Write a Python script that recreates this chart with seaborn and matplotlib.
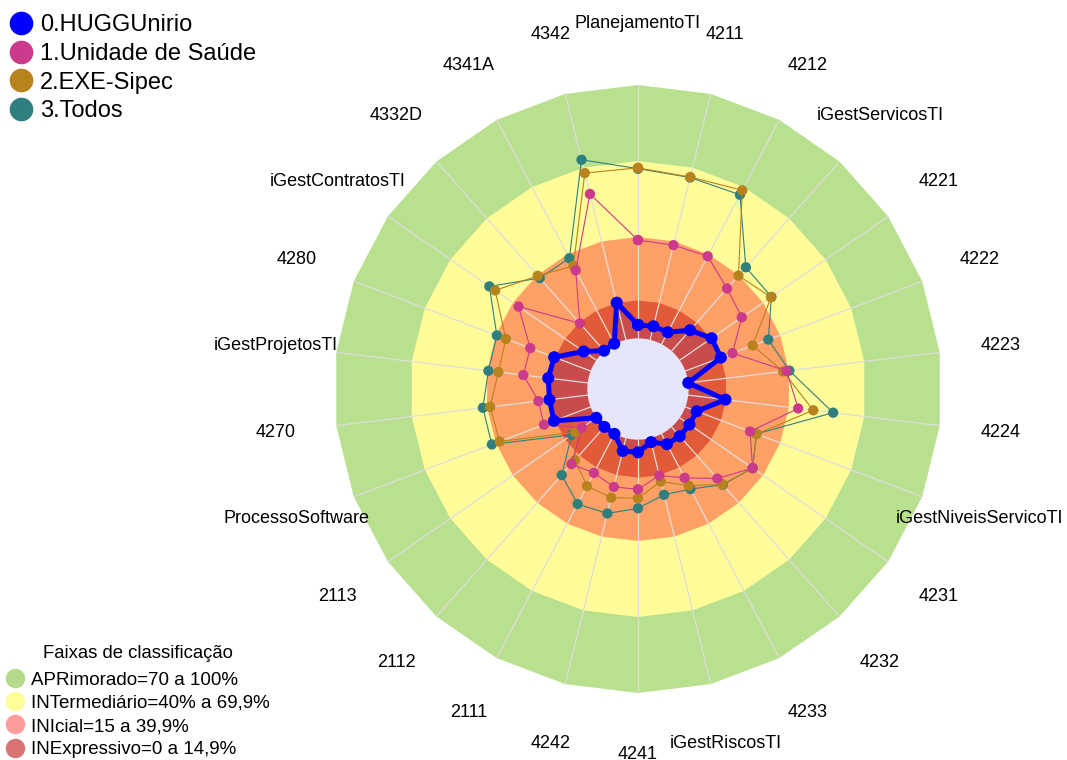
import numpy as np
import pandas as pd
import seaborn as sns
import matplotlib.pyplot as plt
from matplotlib.lines import Line2D
from matplotlib.patches import Polygon, Circle


sns.set_style('white')
plt.rcParams['font.family'] = ['Liberation Sans', 'DejaVu Sans']
plt.rcParams['text.color'] = 'black'

categories = ['PlanejamentoTI', '4211', '4212', 'iGestServicosTI', '4221', '4222',
              '4223', '4224', 'iGestNiveisServicoTI', '4231', '4232', '4233',
              'iGestRiscosTI', '4241', '4242', '2111', '2112', '2113',
              'ProcessoSoftware', '4270', 'iGestProjetosTI', '4280',
              'iGestContratosTI', '4332D', '4341A', '4342']

hugg = [5.3, 5.5, 5.3, 11, 15.3, 15, 0, 14.8, 4.8, 4.7, 4.9, 4.6, 1.6,
        5, 5.2, 0, 0, 0, 15.5, 15.2, 15.7, 15.4, 6.1, 0.2, 0.2, 15.1]
saude = [38.8, 38.5, 39.2, 33.0, 29.8, 19.9, 39.1, 43.7, 27.3, 35.0, 27.2, 19.6, 15.2,
         19.6, 19.8, 17.4, 19.6, 6.9, 19.7, 19.6, 25.6, 25.5, 37.3, 14.6, 32.9, 59.3]
sipec = [67.3, 66.2, 68.6, 39.8, 43.8, 28.4, 37.7, 49.7, 30.1, 35, 30.3, 23.1, 17.6,
         23.1, 24.2, 23.3, 17.5, 10.0, 38.4, 38.8, 35.5, 35.8, 48.5, 39.7, 34.9, 67.8]
todos = [67, 66, 66.6, 44.2, 44, 35.0, 40.2, 57.6, 30, 35, 30.5, 24.6, 23.0,
         27.1, 30.6, 31.3, 25.4, 11.8, 41.7, 41.7, 39.5, 39.6, 51.3, 38.5, 38.3, 73.2]

series_names = ['0.HUGGUnirio', '1.Unidade de Saúde', '2.EXE-Sipec', '3.Todos']
series_values = [hugg, saude, sipec, todos]
series_colors = ['#0000FF', '#CC3A8C', '#B8821C', '#2F7F7F']

band_limits = [100, 70, 40, 15]
band_colors = ['#B9E08E', '#FFFC99', '#FFA066', '#E35A38']
band_labels = ['APRimorado=70 a 100%', 'INTermediário=40% a 69,9%',
               'INIcial=15 a 39,9%', 'INExpressivo=0 a 14,9%']
band_legend_colors = ['#B3DB8A', '#FFFF99', '#FF9C9C', '#D97474']

OFFSET = 20  # radial value -20 sits at the centre (hole)
n = len(categories)
theta = np.arange(n) * 2 * np.pi / n


def to_xy(values):
    r = np.asarray(values, dtype=float) + OFFSET
    return r * np.sin(theta), r * np.cos(theta)


# long format table for seaborn
rows = []
for name, vals in zip(series_names, series_values):
    x, y = to_xy(vals)
    for i in list(range(n)) + [0]:
        rows.append({'serie': name, 'cat': categories[i], 'x': x[i], 'y': y[i]})
df = pd.DataFrame(rows)

k = 2.533  # pixels per unit
fig = plt.figure(figsize=(10.67, 7.6), dpi=100)
ax = fig.add_axes([0, 0, 1, 1])
ax.set_xlim(-638 / k, (1067 - 638) / k)
ax.set_ylim(-(760 - 389) / k, 389 / k)
ax.set_axis_off()

# faixas
for lim, col in zip(band_limits, band_colors):
    bx, by = to_xy([lim] * n)
    ax.add_patch(Polygon(np.column_stack([bx, by]), closed=True, facecolor=col,
                         edgecolor='none', zorder=1))

# area do HUGG
hx, hy = to_xy(hugg)
ax.add_patch(Polygon(np.column_stack([hx, hy]), closed=True, facecolor='#C84C4C',
                     edgecolor='none', zorder=2))

# raios
x0, y0 = to_xy([0] * n)
x1, y1 = to_xy([100] * n)
for i in range(n):
    ax.plot([x0[i], x1[i]], [y0[i], y1[i]], color='#DDDDDD', lw=0.9, zorder=3)

ax.add_patch(Circle((0, 0), OFFSET, facecolor='#E6E6FA', edgecolor='none', zorder=4))

# series (drawn from last to first so HUGG is on top)
for j in [3, 2, 1, 0]:
    name = series_names[j]
    d = df[df['serie'] == name]
    big = j == 0
    sns.lineplot(data=d, x='x', y='y', sort=False, estimator=None, color=series_colors[j],
                 lw=3.6 if big else 0.8, ax=ax, zorder=5 + (3 - j))
    sns.scatterplot(data=d, x='x', y='y', color=series_colors[j], s=75 if big else 55,
                    edgecolor='none', ax=ax, zorder=5.5 + (3 - j))

ax.set_xlabel('')
ax.set_ylabel('')

# rotulos
lx, ly = to_xy([124.1] * n)
for i, cat in enumerate(categories):
    ax.text(lx[i], ly[i], cat, ha='center', va='center', fontsize=13, color='black', zorder=10)

# legendas
h1 = [Line2D([], [], ls='none', marker='o', markersize=16, color=c) for c in series_colors]
leg1 = fig.legend(h1, series_names, loc='upper left', bbox_to_anchor=(0.002, 0.991),
                  frameon=False, fontsize=17, handlelength=1.0, handletextpad=0.3,
                  labelspacing=0.29, borderpad=0.2, borderaxespad=0.1)

h2 = [Line2D([], [], ls='none', marker='o', markersize=13, color=c) for c in band_legend_colors]
leg2 = fig.legend(h2, band_labels, loc='lower left', bbox_to_anchor=(0.004, 0.0),
                  frameon=False, fontsize=13.5, title='Faixas de classificação',
                  title_fontsize=13.3, handlelength=0.95, handletextpad=0.4,
                  labelspacing=0.32, borderpad=0.05, borderaxespad=0.05)
leg2._legend_box.sep = 7

fig.savefig('out.png', dpi=100)
